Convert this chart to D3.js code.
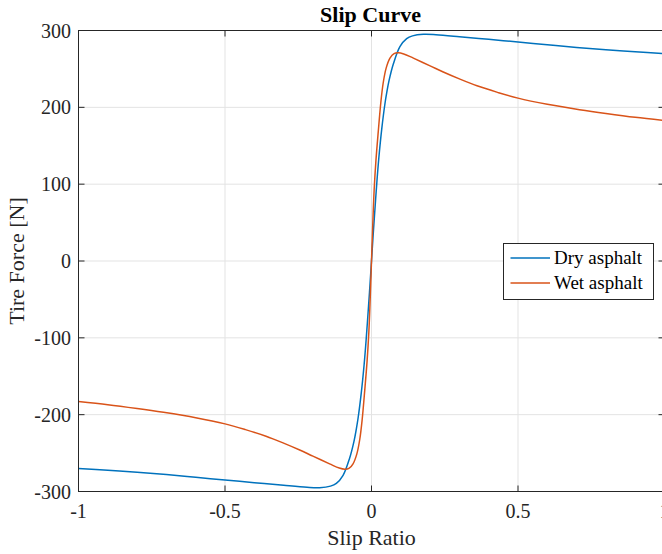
<!DOCTYPE html>
<html>
<head>
<meta charset="utf-8">
<script src="https://cdn.jsdelivr.net/npm/d3@7"></script>
<style>
  body { margin: 0; background: #fff; }
  text { font-family: "Liberation Serif", "Times New Roman", serif; fill: #262626; }
</style>
</head>
<body>
<div id="chart"></div>
<script>
const width = 662;
const height = 554;

// slip ratio / force pairs
const drySlip = [-1, -0.9, -0.8, -0.7, -0.6, -0.5, -0.4, -0.3, -0.22, -0.177, -0.14, -0.12, -0.097, -0.075, -0.06, -0.052, -0.046, -0.035, -0.025, -0.018, -0.01, -0.005,
  0, 0.005, 0.01, 0.018, 0.025, 0.035, 0.046, 0.052, 0.06, 0.075, 0.097, 0.12, 0.14, 0.177, 0.22, 0.3, 0.4, 0.5, 0.6, 0.7, 0.8, 0.9, 1];
const dryForce = [-270, -272.5, -275, -278, -281.5, -285, -288.5, -292, -294.5, -295, -293, -289.5, -279, -257, -235, -219, -205, -172, -134, -101, -58, -30,
  0, 30, 58, 101, 134, 172, 205, 219, 235, 257, 279, 289.5, 293, 295, 294.5, 292, 288.5, 285, 281.5, 278, 275, 272.5, 270];

const wetSlip = [-1, -0.9, -0.8, -0.71, -0.6, -0.5, -0.43, -0.36, -0.3, -0.245, -0.2, -0.143, -0.11, -0.091, -0.077, -0.063, -0.05, -0.04, -0.032, -0.023, -0.015, -0.009, -0.005,
  0, 0.005, 0.009, 0.015, 0.023, 0.032, 0.04, 0.05, 0.063, 0.077, 0.091, 0.11, 0.143, 0.2, 0.245, 0.3, 0.36, 0.43, 0.5, 0.6, 0.71, 0.8, 0.9, 1];
const wetForce = [-183, -187, -192, -197, -204, -212, -219.5, -228, -237, -246, -254, -264, -269.5, -271, -270, -264, -251, -232, -207, -168, -130, -92, -55,
  0, 55, 92, 130, 168, 207, 232, 251, 264, 270, 271, 269.5, 264, 254, 246, 237, 228, 219.5, 212, 204, 197, 192, 187, 183];

const seriesNames = ['Dry asphalt', 'Wet asphalt'];
const seriesColors = ['#0072BD', '#D95319'];

const xTicks = [-1, -0.5, 0, 0.5, 1];
const xTickLabels = ['-1', '-0.5', '0', '0.5', '1'];
const yTicks = [-300, -200, -100, 0, 100, 200, 300];
const yTickLabels = ['-300', '-200', '-100', '0', '100', '200', '300'];

const pLeft = 78.5, pRight = 664.5, pTop = 30.5, pBottom = 491.5;

let x = d3.scaleLinear().domain([-1, 1]).range([pLeft, pRight]);
let y = d3.scaleLinear().domain([-300, 300]).range([pBottom, pTop]);

let svg = d3.select('#chart')
    .append('svg')
    .attr('width', width)
    .attr('height', height);

svg.append('defs').append('clipPath')
    .attr('id', 'plotclip')
    .append('rect')
    .attr('x', pLeft).attr('y', pTop)
    .attr('width', pRight - pLeft).attr('height', pBottom - pTop);

// grid
let grid = svg.append('g');
grid.selectAll('.gx').data(xTicks).enter()
    .append('line')
    .attr('x1', d => x(d)).attr('x2', d => x(d))
    .attr('y1', pTop).attr('y2', pBottom)
    .attr('stroke', '#e3e3e3').attr('stroke-width', 1);
grid.selectAll('.gy').data(yTicks).enter()
    .append('line')
    .attr('x1', pLeft).attr('x2', pRight)
    .attr('y1', d => y(d)).attr('y2', d => y(d))
    .attr('stroke', '#e3e3e3').attr('stroke-width', 1);

// curves
let series = [
  drySlip.map((s, i) => [s, dryForce[i]]),
  wetSlip.map((s, i) => [s, wetForce[i]])
];
let lineGen = d3.line()
    .x(d => x(d[0]))
    .y(d => y(d[1]))
    .curve(d3.curveCatmullRom.alpha(0.5));

svg.append('g')
    .attr('clip-path', 'url(#plotclip)')
    .selectAll('path')
    .data(series).enter()
    .append('path')
    .attr('d', lineGen)
    .attr('fill', 'none')
    .attr('stroke', (d, i) => seriesColors[i])
    .attr('stroke-width', 1.5);

// box + inward ticks
let ax = svg.append('g').attr('stroke', '#262626').attr('stroke-width', 1);
ax.append('rect')
    .attr('x', pLeft).attr('y', pTop)
    .attr('width', pRight - pLeft).attr('height', pBottom - pTop)
    .attr('fill', 'none');
xTicks.forEach(t => {
  ax.append('line').attr('x1', x(t)).attr('x2', x(t)).attr('y1', pBottom).attr('y2', pBottom - 6);
  ax.append('line').attr('x1', x(t)).attr('x2', x(t)).attr('y1', pTop).attr('y2', pTop + 6);
});
yTicks.forEach(t => {
  ax.append('line').attr('x1', pLeft).attr('x2', pLeft + 6).attr('y1', y(t)).attr('y2', y(t));
  ax.append('line').attr('x1', pRight).attr('x2', pRight - 6).attr('y1', y(t)).attr('y2', y(t));
});

// tick labels
svg.selectAll('.xl').data(xTicks).enter()
    .append('text')
    .attr('x', d => x(d))
    .attr('y', 518)
    .attr('text-anchor', 'middle')
    .style('font-size', '20px')
    .text((d, i) => xTickLabels[i]);
svg.selectAll('.yl').data(yTicks).enter()
    .append('text')
    .attr('x', 71)
    .attr('y', d => y(d) + 7)
    .attr('text-anchor', 'end')
    .style('font-size', '20px')
    .text((d, i) => yTickLabels[i]);

// labels and title
svg.append('text')
    .attr('x', (pLeft + pRight) / 2 - 1)
    .attr('y', 22)
    .attr('text-anchor', 'middle')
    .style('font-size', '22px')
    .style('font-weight', 'bold')
    .style('fill', '#000')
    .text('Slip Curve');
svg.append('text')
    .attr('x', (pLeft + pRight) / 2)
    .attr('y', 545)
    .attr('text-anchor', 'middle')
    .style('font-size', '22px')
    .text('Slip Ratio');
svg.append('text')
    .attr('transform', `translate(24, ${(pTop + pBottom) / 2}) rotate(-90)`)
    .attr('text-anchor', 'middle')
    .style('font-size', '22px')
    .text('Tire Force [N]');

// legend
let legend = svg.append('g');
legend.append('rect')
    .attr('x', 503.5).attr('y', 243.5)
    .attr('width', 150).attr('height', 56)
    .attr('fill', '#fff')
    .attr('stroke', '#262626').attr('stroke-width', 1);
seriesNames.forEach((name, i) => {
  let ly = 258 + i * 25;
  legend.append('line')
      .attr('x1', 510.5).attr('x2', 550)
      .attr('y1', ly).attr('y2', ly)
      .attr('stroke', seriesColors[i]).attr('stroke-width', 1.5);
  legend.append('text')
      .attr('x', 554)
      .attr('y', ly + 6)
      .style('font-size', '19px')
      .style('fill', '#000')
      .text(name);
});
</script>
</body>
</html>
